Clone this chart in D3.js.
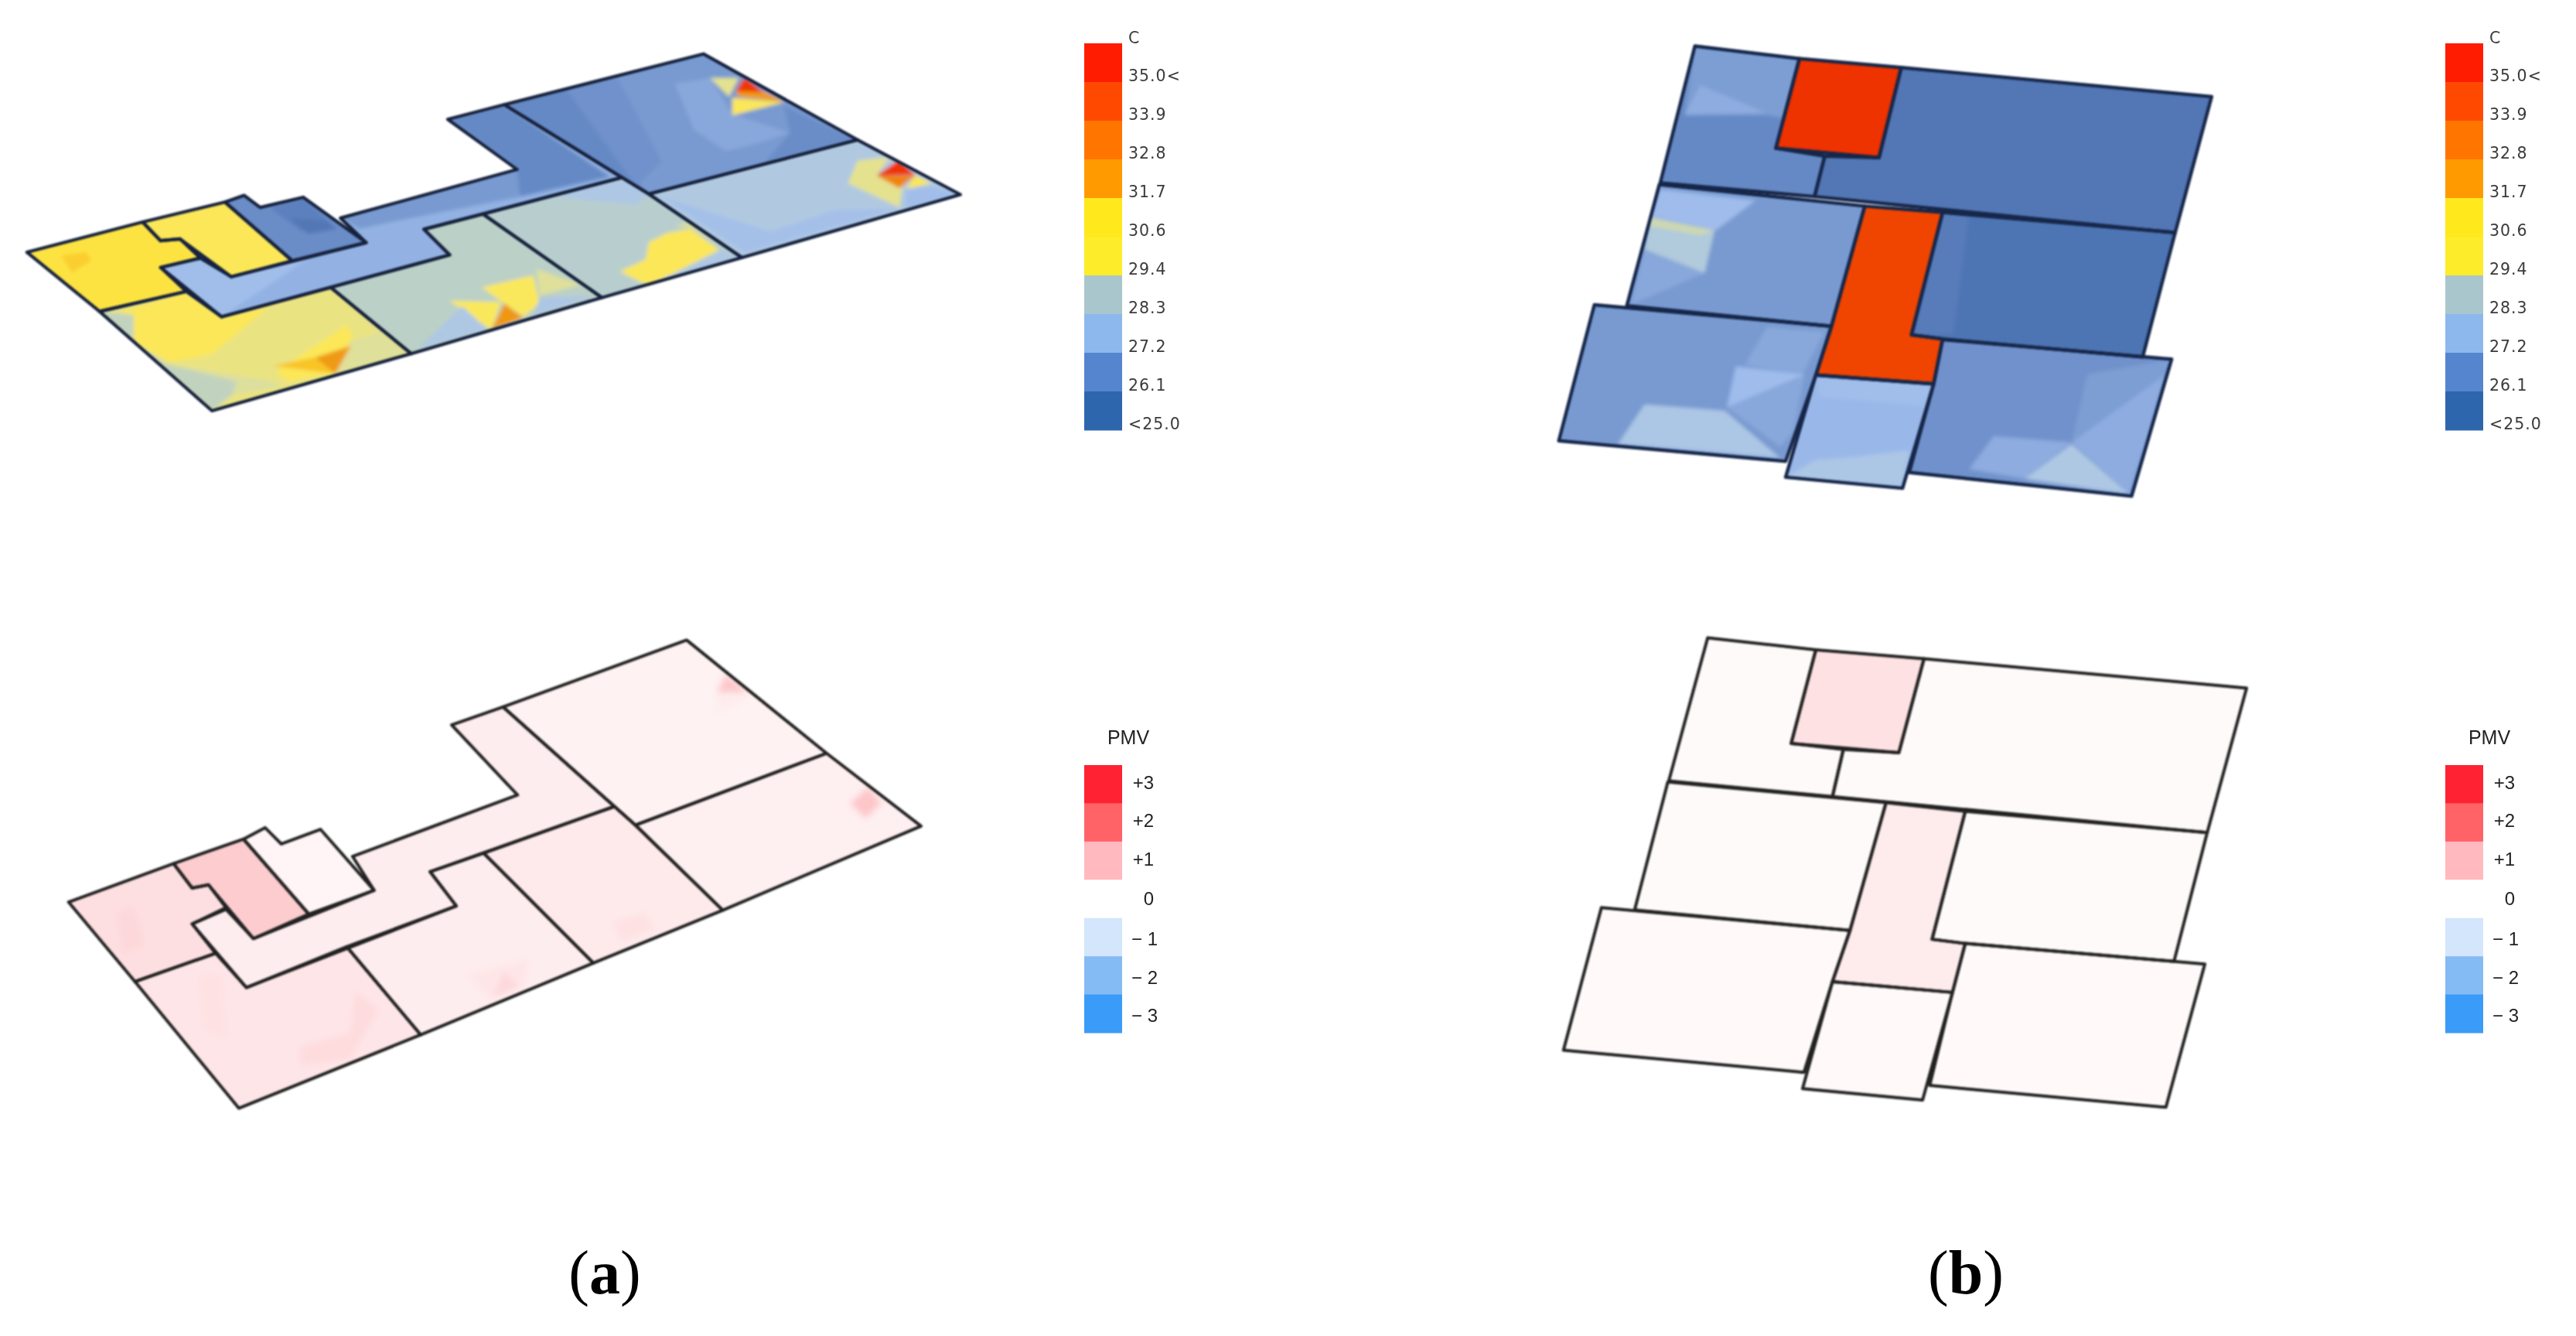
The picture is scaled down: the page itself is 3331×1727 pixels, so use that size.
<!DOCTYPE html>
<html><head><meta charset="utf-8">
<style>html,body{margin:0;padding:0;background:#fff}svg{display:block}</style>
<script src="https://cdn.jsdelivr.net/npm/d3@7"></script>
</head><body><svg id="c" width="3331" height="1727"></svg>
<script>
// ---- legends
const tempLabels = ["35.0<","33.9","32.8","31.7","30.6","29.4","28.3","27.2","26.1","<25.0"];
const tempBandColors = ["#ff1e00","#ff4a00","#ff7400","#ff9a00","#ffe81c","#fdec2a","#a9c6cc","#8cb8ee","#5485cf","#2f66ae"];
const pmvLabels = ["+3","+2","+1","0","\u2212 1","\u2212 2","\u2212 3"];
const pmvBandColors = ["#ff2430","#ff6468","#ffb9bf","#ffffff","#d3e6fb","#85bbf5","#3a9bf8"];

// ---- colour ramps of the fields
const tempStops = [25,25.8,26.3,26.8,27.3,27.9,28.3,28.9,29.4,30.6,31.2,31.8,32.8,33.9,35];
const tempRamp  = ["#3c69ad","#5377b5","#6a8dc8","#82a2d6","#9fbcec","#aec8e4","#bbd0c6","#dfe09a","#fae85e","#fde23e","#f8c425","#ef9a12","#f07a00","#ef4400","#ee3000"];
const pmvStops = [0,1,2,3];
const pmvRamp  = ["#ffffff","#fcb8bc","#ff6468","#ff2430"];

// ---- plan (a) upper: temperature
const aTempRooms = [
 {v:30.4,p:[[42,858],[222,745],[250,815],[280,808],[312,880],[250,915],[290,1005],[155,1080]]},
 {v:29.6,p:[[222,745],[350,670],[455,890],[360,950],[280,808],[250,815]]},
 {v:26.3,p:[[350,670],[380,645],[405,690],[472,652],[570,822],[455,890]]},
 {v:27.1,p:[[250,915],[312,880],[360,950],[570,822],[530,730],[805,548],[697,360],[785,305],[968,578],[660,772],[700,868],[345,1100]]},
 {v:29.1,p:[[155,1080],[290,1005],[345,1100],[515,990],[640,1238],[330,1452]]},
 {v:28.3,p:[[515,990],[700,868],[660,772],[752,715],[937,1028],[640,1238]]},
 {v:28.2,p:[[752,715],[968,578],[1010,640],[1155,878],[937,1028]]},
 {v:26.6,p:[[785,305],[1095,115],[1335,437],[1010,640]]},
 {v:27.95,p:[[1010,640],[1335,437],[1495,642],[1155,878]]}
];
const aTempPatches = [
 {r:0,v:31.0,p:[[95,870],[135,858],[142,890],[112,935]]},
 {r:2,v:26.0,p:[[420,690],[472,655],[510,740],[470,780]]},
 {r:2,v:25.8,p:[[450,730],[510,740],[525,770],[480,790]]},
 {r:3,v:26.2,p:[[697,360],[785,305],[950,575],[810,650],[800,540]]},
 {r:3,v:26.6,p:[[530,730],[805,548],[810,650],[620,740],[560,770]]},
 {r:3,v:27.4,p:[[250,915],[312,880],[360,950],[480,880],[345,1100]]},
 {r:4,v:29.6,p:[[190,1080],[290,1005],[345,1100],[420,1060],[330,1240],[265,1270],[208,1197]]},
 {r:4,v:29.6,p:[[540,1130],[430,1304],[448,1342],[522,1313],[555,1210]]},
 {r:4,v:28.4,p:[[155,1080],[208,1092],[208,1197],[258,1275],[368,1342],[362,1391],[330,1452]]},
 {r:4,v:28.85,p:[[258,1275],[368,1320],[420,1340],[440,1360],[362,1391],[368,1342]]},
 {r:4,v:28.9,p:[[540,1060],[640,1238],[520,1320],[545,1190],[590,1160]]},
 {r:4,v:31.2,p:[[546,1209],[522,1313],[424,1284],[491,1252]]},
 {r:4,v:31.8,p:[[546,1209],[522,1313],[491,1252]]},
 {r:5,v:29.5,p:[[750,990],[830,945],[840,1050],[815,1100],[785,1050]]},
 {r:5,v:29.5,p:[[700,1040],[780,1045],[765,1150]]},
 {r:5,v:31.9,p:[[785,1050],[815,1105],[765,1150]]},
 {r:5,v:28.9,p:[[835,920],[905,980],[840,1020]]},
 {r:5,v:27.8,p:[[840,1030],[925,1020],[830,1095]]},
 {r:5,v:27.9,p:[[650,1220],[720,1060],[760,1150]]},
 {r:6,v:27.85,p:[[860,650],[968,578],[1010,640],[990,680]]},
 {r:6,v:29.6,p:[[1040,785],[1075,770],[1120,850],[1010,985],[965,930],[1005,885],[1010,820]]},
 {r:6,v:28.8,p:[[1050,760],[1075,740],[1125,830],[1080,770]]},
 {r:6,v:27.9,p:[[1120,850],[1155,878],[1020,975]]},
 {r:7,v:26.2,p:[[785,305],[880,245],[1000,620],[1010,640],[968,578]]},
 {r:7,v:26.4,p:[[880,245],[960,200],[1030,520],[990,610]]},
 {r:7,v:26.9,p:[[1050,225],[1105,205],[1140,340],[1230,410],[1180,450],[1130,480],[1080,400]]},
 {r:7,v:26.3,p:[[1220,310],[1335,437],[1190,525],[1230,410]]},
 {r:7,v:29.0,p:[[1105,205],[1150,205],[1135,275]]},
 {r:7,v:29.6,p:[[1140,280],[1222,295],[1140,345]]},
 {r:7,v:31.8,p:[[1145,255],[1190,255],[1222,295],[1150,275]]},
 {r:7,v:34.5,p:[[1160,200],[1188,258],[1145,255]]},
 {r:8,v:29.0,p:[[1335,515],[1385,500],[1365,570],[1405,615],[1400,690],[1320,600]]},
 {r:8,v:35,p:[[1400,510],[1425,568],[1365,570]]},
 {r:8,v:32.5,p:[[1365,572],[1425,570],[1400,618]]},
 {r:8,v:29.8,p:[[1425,570],[1450,600],[1410,620]]},
 {r:8,v:27.4,p:[[1410,625],[1450,610],[1495,642],[1410,695]]},
 {r:8,v:27.5,p:[[1030,650],[1160,860],[1400,695],[1300,700],[1200,780]]}
];
// ---- plan (b) upper: temperature
const bTempRooms = [
 {v:26.2,p:[[368,72],[603,112],[550,395],[660,420],[637,548],[290,505]]},
 {v:35,p:[[603,112],[832,140],[782,425],[550,395]]},
 {v:25.75,p:[[832,140],[1530,232],[1448,662],[637,548],[660,420],[782,425]]},
 {v:26.6,p:[[288,510],[750,578],[675,958],[215,893]]},
 {v:33.9,p:[[750,578],[925,598],[855,985],[925,998],[905,1140],[640,1112],[675,958]]},
 {v:25.6,p:[[925,598],[1448,662],[1375,1055],[925,998],[855,985]]},
 {v:26.6,p:[[142,890],[675,958],[640,1112],[572,1385],[62,1320]]},
 {v:27.2,p:[[640,1112],[905,1140],[835,1470],[572,1435]]},
 {v:26.4,p:[[925,1000],[1440,1062],[1350,1495],[850,1420],[905,1140]]}
];
const bTempPatches = [
 {r:0,v:26.7,p:[[368,72],[603,112],[570,300],[530,290],[345,290]]},
 {r:0,v:27.0,p:[[380,195],[530,285],[345,290]]},
 {r:3,v:27.3,p:[[290,525],[505,560],[415,655],[270,610]]},
 {r:3,v:28.0,p:[[268,612],[412,655],[390,790],[255,715]]},
 {r:3,v:28.6,p:[[268,615],[412,655],[380,670],[262,640]]},
 {r:3,v:26.9,p:[[255,715],[390,790],[225,890]]},
 {r:5,v:25.9,p:[[925,598],[985,610],[950,985],[860,985]]},
 {r:6,v:26.9,p:[[530,960],[660,975],[610,1110],[480,1080]]},
 {r:6,v:27.3,p:[[460,1085],[615,1110],[440,1215]]},
 {r:6,v:26.9,p:[[440,1215],[615,1110],[590,1290],[560,1340]]},
 {r:6,v:27.8,p:[[255,1205],[435,1225],[560,1375],[195,1330]]},
 {r:7,v:27.4,p:[[640,1120],[900,1145],[880,1210],[650,1180]]},
 {r:7,v:27.2,p:[[620,1190],[880,1210],[850,1350],[730,1370],[640,1330]]},
 {r:7,v:27.8,p:[[640,1380],[730,1370],[850,1350],[835,1470],[572,1435]]},
 {r:8,v:27.0,p:[[1040,1305],[1215,1325],[1110,1440],[985,1410]]},
 {r:8,v:27.9,p:[[1215,1330],[1345,1490],[1110,1440]]},
 {r:8,v:27.0,p:[[1215,1325],[1425,1110],[1390,1290],[1345,1490]]},
 {r:8,v:26.7,p:[[1250,1110],[1440,1062],[1425,1110],[1215,1325]]}
];
// ---- plan (a) lower: PMV
const aPmvRooms = [
 {v:.45,p:[[38,868],[218,750],[250,825],[278,815],[308,885],[250,935],[290,1025],[152,1112]]},
 {v:.72,p:[[218,750],[338,675],[450,905],[355,980],[278,815],[250,825]]},
 {v:.14,p:[[338,675],[375,640],[403,690],[470,645],[562,832],[450,905]]},
 {v:.26,p:[[250,935],[308,890],[355,980],[562,832],[525,728],[808,540],[695,325],[783,270],[974,575],[658,775],[703,880],[343,1130]]},
 {v:.36,p:[[152,1112],[290,1025],[343,1130],[515,1005],[642,1275],[330,1500]]},
 {v:.25,p:[[515,1005],[703,880],[658,775],[750,718],[938,1055],[642,1275]]},
 {v:.3,p:[[750,718],[974,575],[1010,632],[1160,893],[938,1055]]},
 {v:.19,p:[[783,270],[1098,65],[1338,412],[1010,632]]},
 {v:.22,p:[[1010,632],[1338,412],[1500,635],[1160,893]]}
];
const aPmvPatches = [
 {r:0,v:.55,p:[[120,900],[150,880],[170,1000],[130,1030]]},
 {r:4,v:.5,p:[[530,1140],[570,1200],[520,1350],[435,1370],[435,1310],[520,1270]]},
 {r:4,v:.42,p:[[260,1090],[300,1090],[310,1290],[270,1260]]},
 {r:5,v:.35,p:[[720,1090],[830,1040],[820,1130],[760,1170]]},
 {r:5,v:.55,p:[[785,1080],[810,1125],[765,1165]]},
 {r:6,v:.42,p:[[970,930],[1025,900],[1045,950],[985,990]]},
 {r:7,v:.8,p:[[1165,170],[1205,225],[1150,225]]},
 {r:7,v:.27,p:[[1150,225],[1210,235],[1150,290]]},
 {r:8,v:.8,p:[[1410,515],[1432,565],[1405,612],[1378,565]]}
];
// ---- plan (b) lower: PMV
const bPmvRooms = [
 {v:.07,p:[[372,58],[600,95],[548,382],[658,400],[635,545],[290,497]]},
 {v:.42,p:[[600,95],[828,122],[775,410],[548,382]]},
 {v:.07,p:[[828,122],[1508,212],[1425,655],[635,545],[658,400],[775,410]]},
 {v:.07,p:[[288,500],[748,563],[672,955],[218,892]]},
 {v:.28,p:[[748,563],[915,590],[845,982],[915,995],[888,1145],[635,1112],[672,955]]},
 {v:.07,p:[[915,590],[1425,655],[1355,1050],[915,995],[845,982]]},
 {v:.08,p:[[148,885],[672,955],[635,1112],[575,1390],[68,1322]]},
 {v:.09,p:[[635,1112],[888,1145],[825,1475],[572,1440]]},
 {v:.08,p:[[915,995],[1420,1058],[1338,1497],[840,1430],[888,1145]]}
];

const tempColor = d3.scaleLinear().domain(tempStops).range(tempRamp).clamp(true);
const pmvColor  = d3.scaleLinear().domain(pmvStops).range(pmvRamp).clamp(true);

const svg = d3.select("#c");
svg.append("rect").attr("width",3331).attr("height",1727).attr("fill","#fff");
const defs = svg.append("defs");
const addBlur=(id,s)=>defs.append("filter").attr("id",id).attr("x","-10%").attr("y","-10%").attr("width","120%").attr("height","120%")
  .append("feGaussianBlur").attr("stdDeviation",s);
addBlur("soft",2.6); addBlur("softer",4); addBlur("wall",1.0); addBlur("bar",.7); addBlur("txt",0.4);

const line = d3.line().curve(d3.curveLinearClosed);
let uid=0;
function plan(rooms,patches,color,box,wallColor,wallW,blur){
  const x=d3.scaleLinear().domain([0,1565]).range([box.x,box.x+box.w]);
  const y=d3.scaleLinear().domain([0,1565]).range([box.y,box.y+box.h]);
  const path=p=>line(p.map(d=>[x(d[0]),y(d[1])]));
  const g=svg.append("g");
  rooms.forEach((room,i)=>{
    const id="room"+(uid++);
    defs.append("clipPath").attr("id",id).append("path").attr("d",path(room.p));
    const rg=g.append("g").attr("clip-path",`url(#${id})`).append("g").attr("filter",`url(#${blur})`);
    rg.append("path").attr("d",path(room.p)).attr("fill",color(room.v)).attr("stroke",color(room.v)).attr("stroke-width",14);
    rg.selectAll("path.patch").data(patches.filter(d=>d.r===i)).join("path").attr("class","patch")
      .attr("d",d=>path(d.p)).attr("fill",d=>color(d.v));
  });
  g.append("g").attr("filter","url(#wall)").selectAll("path").data(rooms).join("path")
    .attr("d",d=>path(d.p)).attr("fill","none").attr("stroke",wallColor)
    .attr("stroke-width",wallW).attr("stroke-linejoin","round");
}
const tempFrameA={x:0,y:30,w:1300,h:540}, tempFrameB={x:1980,y:30,w:900,h:640};
const pmvFrameA={x:60,y:800,w:1180,h:660}, pmvFrameB={x:1980,y:800,w:960,h:660};
plan(aTempRooms,aTempPatches,tempColor,tempFrameA,"#16233c",4.2,"soft");
plan(bTempRooms,bTempPatches,tempColor,tempFrameB,"#14264a",4.4,"soft");
plan(aPmvRooms,aPmvPatches,pmvColor,pmvFrameA,"#222222",4,"softer");
plan(bPmvRooms,[],pmvColor,pmvFrameB,"#222222",4,"softer");

function tempLegend(dx){
  const g=svg.append("g").attr("transform",`translate(${dx},0)`);
  const y=d3.scaleBand().domain(tempLabels).range([56,556]);
  g.append("g").attr("filter","url(#bar)").selectAll("rect").data(tempLabels).join("rect")
    .attr("x",1402).attr("width",49).attr("y",d=>y(d)).attr("height",y.bandwidth()+.5)
    .attr("fill",(d,i)=>tempBandColors[i]);
  const t=g.append("g").attr("filter","url(#txt)").attr("font-family","DejaVu Sans").attr("font-size",20.5).attr("letter-spacing",1).attr("fill","#3a3a3a");
  t.append("text").attr("x",1459).attr("y",56).text("C");
  t.selectAll("text.l").data(tempLabels).join("text").attr("class","l")
    .attr("x",1459).attr("y",d=>y(d)+y.bandwidth()-1).text(d=>d);
}
function pmvLegend(dx){
  const g=svg.append("g").attr("transform",`translate(${dx},0)`);
  const y=d3.scaleBand().domain(pmvLabels).range([989,1335]);
  g.append("g").attr("filter","url(#bar)").selectAll("rect").data(pmvLabels).join("rect")
    .attr("x",1402).attr("width",49).attr("y",d=>y(d)).attr("height",y.bandwidth()+.5)
    .attr("fill",(d,i)=>pmvBandColors[i]);
  const t=g.append("g").attr("filter","url(#txt)").attr("font-family","Liberation Sans").attr("font-size",24).attr("fill","#222");
  t.append("text").attr("x",1459).attr("y",962).attr("text-anchor","middle").attr("font-size",25).text("PMV");
  t.selectAll("text.l").data(pmvLabels).join("text").attr("class","l")
    .attr("x",d=>d.length>2?1497:1492)
    .attr("y",(d,i)=>y(d)+y.bandwidth()/2+(i>3?11:i===3?8:6)).attr("text-anchor","end").text(d=>d);
}
tempLegend(0); tempLegend(1760);
pmvLegend(0);  pmvLegend(1760);

const panelLetters=["a","b"], panelCentres=[782,2542];
panelLetters.forEach((s,i)=>{
  const t=svg.append("text").attr("x",panelCentres[i]).attr("y",1672).attr("text-anchor","middle")
    .attr("font-family","Liberation Serif").attr("font-size",80).attr("fill","#000");
  t.append("tspan").text("(");
  t.append("tspan").attr("font-weight","bold").text(s);
  t.append("tspan").text(")");
});
</script></body></html>
